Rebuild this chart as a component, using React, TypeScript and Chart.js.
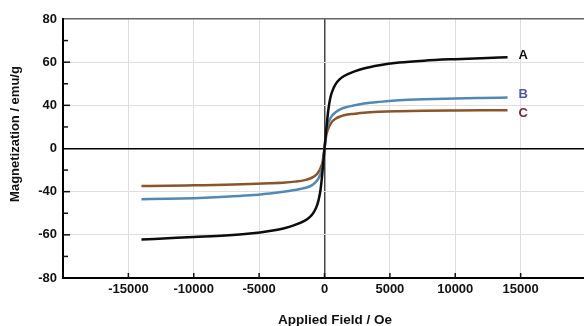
import React, { useEffect, useRef } from 'react';
import { Chart, registerables, LinearScale } from 'chart.js';

// Applied field (Oe)
const FIELD = [-14000, -12000, -10000, -7600, -5700, -4200, -3000, -2300, -1500, -1150, -850, -600, -450, -300, -150, 0, 150, 300, 450, 600, 850, 1150, 1500, 2300, 3000, 4200, 5700, 7600, 10000, 12000, 14000];
// Magnetization (emu/g)
const SAMPLE_A = [-62.2, -61.6, -61.0, -60.3, -59.4, -58.2, -56.8, -55.5, -53.4, -51.9, -49.8, -46.8, -43.8, -38.0, -21.0, 0, 19.6, 36.4, 43.6, 46.6, 49.8, 52.0, 53.6, 55.7, 57.1, 58.6, 59.8, 60.7, 61.4, 61.86, 62.26];
const SAMPLE_B = [-43.5, -43.3, -43.0, -42.4, -41.7, -40.8, -39.8, -38.5, -36.6, -35.2, -33.2, -30.2, -27.4, -23.4, -16.4, 0, 16.8, 24.0, 28.0, 30.8, 33.6, 36.0, 37.8, 40.0, 40.8, 41.6, 42.3, 42.8, 43.2, 43.42, 43.6];
const SAMPLE_C = [-34.8, -34.5, -34.1, -33.6, -33.0, -32.3, -31.5, -30.7, -29.3, -28.0, -26.3, -24.0, -21.5, -18.0, -12.5, 0, 13.2, 18.8, 22.4, 25.2, 27.6, 29.4, 30.8, 32.2, 33.2, 34.0, 34.5, 34.9, 35.2, 35.4, 35.5];

const SERIES_NAMES = ['A', 'B', 'C'];
const SERIES_COLORS = ['#0c0c0c', '#5289b3', '#8a5529'];
const NAME_COLORS = ['#111111', '#4b5a9a', '#7a2636'];
const NAME_FIELD = 15200;
const NAME_Y = [63.2, 45.1, 32.4];

const X_TICKS = [-15000, -10000, -5000, 0, 5000, 10000, 15000];
const Y_MAJOR = [-80, -60, -40, 0, 40, 60, 80];
const Y_MINOR = [-70, -50, -20, 20, 50, 70];

const X_TITLE = 'Applied Field / Oe';
const Y_TITLE = 'Magnetization / emu/g';

// axis labelled 0,40,60,80 at equal spacing (piecewise)
function toUnit(v: number) {
  const a = Math.abs(v);
  const s = v < 0 ? -1 : 1;
  return a <= 40 ? v / 40 : s * (1 + (a - 40) / 20);
}
function fromUnit(u: number) {
  const a = Math.abs(u);
  const s = u < 0 ? -1 : 1;
  return a <= 1 ? u * 40 : s * (40 + (a - 1) * 20);
}

class BrokenScale extends LinearScale {
  static id = 'broken';
  static defaults = {};
  buildTicks() {
    return Y_MAJOR.map((v) => ({ value: v }));
  }
  getPixelForValue(value: number) {
    return this.getPixelForDecimal((toUnit(value) + 3) / 6);
  }
  getValueForPixel(pixel: number) {
    return fromUnit(this.getDecimalForPixel(pixel) * 6 - 3);
  }
}

Chart.register(...registerables);
Chart.register(BrokenScale as any);

const FONT = '"Liberation Sans", Arial, sans-serif';

const decor = {
  id: 'decor',
  beforeDatasetsDraw(chart: any) {
    const { ctx, chartArea, scales } = chart;
    const x = scales.x;
    const y = scales.y;
    ctx.save();
    ctx.strokeStyle = '#111';
    ctx.lineWidth = 1.5;
    const seg = (x1: number, y1: number, x2: number, y2: number) => {
      ctx.beginPath();
      ctx.moveTo(x1, y1);
      ctx.lineTo(x2, y2);
      ctx.stroke();
    };
    for (const v of Y_MAJOR) {
      if (Math.abs(v) === 80 || v === 0) continue;
      const py = y.getPixelForValue(v);
      seg(chartArea.left, py, chartArea.left + 7, py);
    }
    for (const v of Y_MINOR) {
      const py = y.getPixelForValue(v);
      seg(chartArea.left, py, chartArea.left + 5, py);
    }
    for (const v of X_TICKS) {
      const px = x.getPixelForValue(v);
      seg(px, chartArea.bottom, px, chartArea.bottom - 5);
    }
    ctx.restore();
  },
  afterDraw(chart: any) {
    const { ctx, scales } = chart;
    const x = scales.x;
    const y = scales.y;
    ctx.save();
    ctx.textAlign = 'center';
    ctx.textBaseline = 'middle';
    ctx.font = 'bold 13px ' + FONT;
    SERIES_NAMES.forEach((n, i) => {
      ctx.fillStyle = NAME_COLORS[i];
      ctx.fillText(n, x.getPixelForValue(NAME_FIELD), y.getPixelForValue(NAME_Y[i]));
    });
    ctx.fillStyle = '#111';
    ctx.font = 'bold 13.5px ' + FONT;
    ctx.fillText(X_TITLE, 335, 320);
    ctx.translate(15, 134);
    ctx.rotate(-Math.PI / 2);
    ctx.font = 'bold 13px ' + FONT;
    ctx.fillText(Y_TITLE, 0, 0);
    ctx.restore();
  },
};

export default function App() {
  const ref = useRef<HTMLCanvasElement>(null);
  useEffect(() => {
    const series = [SAMPLE_A, SAMPLE_B, SAMPLE_C];
    const chart = new Chart(ref.current as HTMLCanvasElement, {
      type: 'line',
      data: {
        datasets: series.map((s, i) => ({
          label: SERIES_NAMES[i],
          data: FIELD.map((f, j) => ({ x: f, y: s[j] })),
          borderColor: SERIES_COLORS[i],
          borderWidth: 2.5,
          pointRadius: 0,
          fill: false,
          cubicInterpolationMode: 'monotone',
        })),
      },
      options: {
        animation: false,
        responsive: false,
        events: [],
        layout: { padding: { top: 19, right: 2, left: 0, bottom: 0 } },
        plugins: { legend: { display: false }, tooltip: { enabled: false } },
        scales: {
          x: {
            type: 'linear',
            min: -20000,
            max: 20000,
            afterBuildTicks: (s: any) => {
              s.ticks = X_TICKS.map((v) => ({ value: v }));
            },
            afterFit: (s: any) => {
              s.height = 48;
            },
            ticks: {
              autoSkip: false,
              maxRotation: 0,
              padding: 4,
              color: '#111',
              font: { family: FONT, size: 13, weight: 'bold' },
              callback: (v: any) => String(v),
            },
            grid: {
              drawTicks: false,
              color: (c: any) => (c.tick && c.tick.value === 0 ? '#444' : '#dedede'),
              lineWidth: (c: any) => (c.tick && c.tick.value === 0 ? 1.5 : 1),
            },
            border: { display: true, color: '#000', width: 2 },
          },
          y: {
            type: 'broken' as any,
            min: -80,
            max: 80,
            afterFit: (s: any) => {
              s.width = 63;
            },
            ticks: {
              autoSkip: false,
              padding: 6,
              color: '#111',
              font: { family: FONT, size: 13, weight: 'bold' },
              callback: (v: any) => String(v),
            },
            grid: {
              drawTicks: false,
              color: (c: any) => {
                const v = c.tick ? c.tick.value : null;
                if (v === 0 || v === -80) return '#000';
                if (v === 80) return '#666';
                return '#dedede';
              },
              lineWidth: (c: any) => {
                const v = c.tick ? c.tick.value : null;
                if (v === 0 || v === 80) return 1.5;
                return 1;
              },
            },
            border: { display: true, color: '#000', width: 2 },
          },
        },
      },
      plugins: [decor],
    } as any);
    return () => chart.destroy();
  }, []);
  return (
    <div style={{ position: 'fixed', left: 0, top: 0, width: 584, height: 326, overflow: 'hidden', background: '#fff' }}>
      <canvas ref={ref} width={588} height={326} style={{ display: 'block' }} />
    </div>
  );
}
